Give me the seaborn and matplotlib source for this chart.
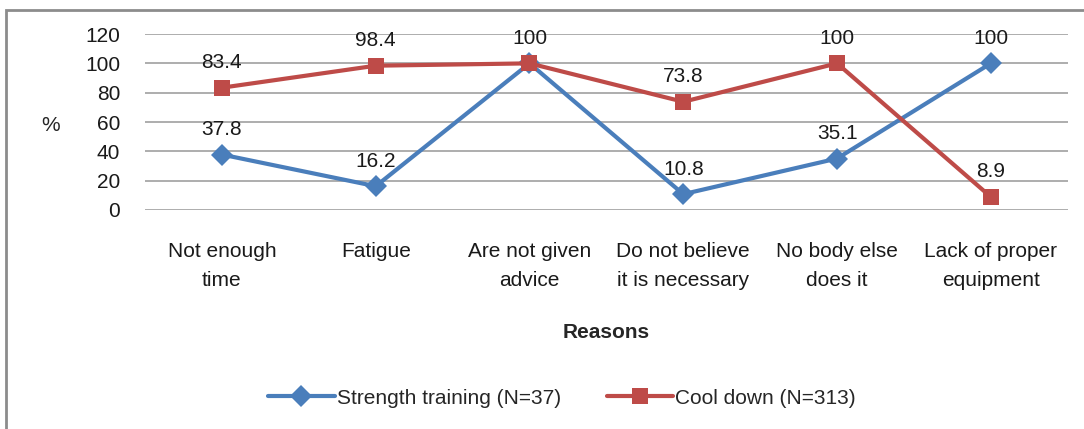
import numpy as np
import pandas as pd
import matplotlib.pyplot as plt
import seaborn as sns
from matplotlib.patches import Rectangle

reasons = ["Not enough\ntime", "Fatigue", "Are not given\nadvice",
           "Do not believe\nit is necessary", "No body else\ndoes it",
           "Lack of proper\nequipment"]
strength = [37.8, 16.2, 100, 10.8, 35.1, 100]
cool_down = [83.4, 98.4, 100, 73.8, 100, 8.9]
series_names = ["Strength training (N=37)", "Cool down (N=313)"]

df = pd.DataFrame({
    "Reason": reasons * 2,
    "Value": strength + cool_down,
    "Series": [series_names[0]] * len(reasons) + [series_names[1]] * len(reasons),
})

sns.set_style("white")
plt.rcParams['font.family'] = ['Liberation Sans', 'DejaVu Sans']
fs = 15

fig = plt.figure(figsize=(10.84, 4.29), dpi=100)
ax = fig.add_axes([0.1338, 0.5105, 0.8512, 0.4102])

palette = {series_names[0]: "#4A7EBB", series_names[1]: "#BE4B48"}
markers = {series_names[0]: "D", series_names[1]: "s"}
sns.lineplot(data=df, x="Reason", y="Value", hue="Series", style="Series",
             palette=palette, markers=markers, dashes=False, sort=False,
             linewidth=3, markersize=11, markeredgewidth=0, ax=ax)

# data labels (skip a label that would sit on top of an identical one)
placed = set()
for name, vals in zip(series_names[::-1], [cool_down, strength]):
    for i, v in enumerate(vals):
        if (i, v) in placed:
            continue
        placed.add((i, v))
        ax.annotate(f"{v:g}", (i, v), xytext=(0, 18), textcoords="offset points",
                    ha="center", va="center", fontsize=fs, color="#1a1a1a",
                    annotation_clip=False)

ax.set_xlim(-0.5, len(reasons) - 0.5)
ax.set_ylim(0, 120)
ax.set_yticks(np.arange(0, 121, 20))
ax.yaxis.grid(True, color="#a0a0a0", linewidth=1.2)
ax.xaxis.grid(False)
for s in ax.spines.values():
    s.set_visible(False)
ax.tick_params(axis="y", length=0, pad=18, labelsize=fs, labelcolor="#1a1a1a")
ax.tick_params(axis="x", length=0, pad=23, labelsize=fs, labelcolor="#1a1a1a")
for lab in ax.get_xticklabels():
    lab.set_linespacing(1.65)

ax.set_xlabel("Reasons", fontsize=fs, fontweight="bold", labelpad=24)
ax.set_ylabel("%", fontsize=fs, rotation=0, va="center")
ax.yaxis.set_label_coords(-0.102, 0.48)

handles, labels = ax.get_legend_handles_labels()
ax.legend(handles, labels, loc="center", bbox_to_anchor=(562 / 1084, 1 - 398 / 429),
          bbox_transform=fig.transFigure, ncol=2, frameon=False, fontsize=fs,
          handlelength=3.2, handletextpad=0.1, columnspacing=2.2)

# frame around the chart
fig.patches.append(Rectangle((6 / 1084, -0.1), 1.2, 1 - 10 / 429 + 0.1,
                             transform=fig.transFigure, fill=False,
                             edgecolor="#8c8c8c", linewidth=2))

fig.savefig("out.png", dpi=100)
